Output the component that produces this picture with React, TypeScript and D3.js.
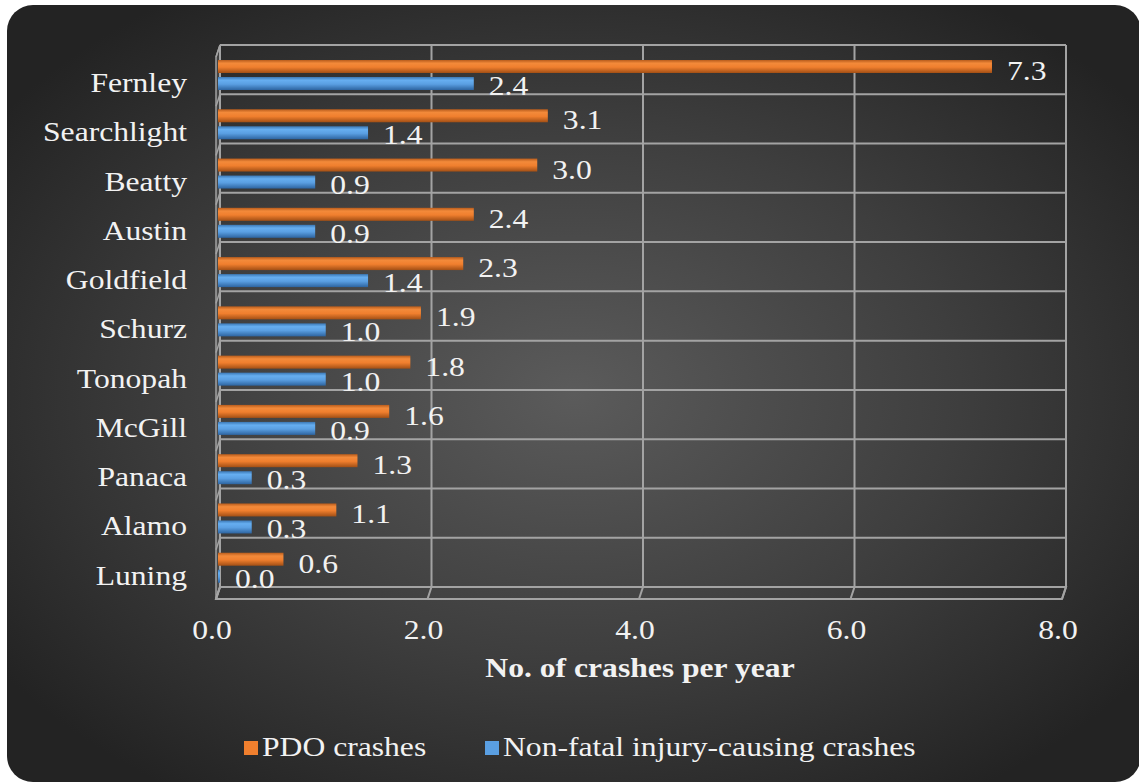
import React from "react";
import * as d3 from "d3";

// Crash rates per year by town
const categories = [
  "Fernley",
  "Searchlight",
  "Beatty",
  "Austin",
  "Goldfield",
  "Schurz",
  "Tonopah",
  "McGill",
  "Panaca",
  "Alamo",
  "Luning",
];
const pdoCrashes = [7.3, 3.1, 3.0, 2.4, 2.3, 1.9, 1.8, 1.6, 1.3, 1.1, 0.6];
const injuryCrashes = [2.4, 1.4, 0.9, 0.9, 1.4, 1.0, 1.0, 0.9, 0.3, 0.3, 0.0];
const xTicks = [0, 2, 4, 6, 8];
const seriesNames = ["PDO crashes", "Non-fatal injury-causing crashes"];

const W = 1139;
const H = 784;
const FONT = "'Liberation Serif', 'Times New Roman', serif";
const FS = 27.5;
const SX = 1.15;
// 3D depth offset (back wall -> front edge)
const DX = -4;
const DY = 12;

const TEXT = "#f2f2f2";
const GRID = "#a3a3a3";

function Label(props: {
  x: number;
  y: number;
  text: string;
  anchor?: "start" | "middle" | "end";
  bold?: boolean;
}) {
  return (
    <text
      transform={`translate(${props.x},${props.y}) scale(${SX},1)`}
      textAnchor={props.anchor ?? "start"}
      fontFamily={FONT}
      fontSize={FS}
      fontWeight={props.bold ? "bold" : "normal"}
      fill={TEXT}
    >
      {props.text}
    </text>
  );
}

export default function App() {
  const x = d3.scaleLinear().domain([0, 8]).range([220, 1066]);
  const y = d3.scaleBand<string>().domain(categories).range([45, 587]).padding(0);
  const bw = y.bandwidth();
  const fmt = d3.format(".1f");

  const top = 45;
  const bottom = 587;
  const left = x(0);
  const right = x(8);

  const rowLines = d3.range(categories.length + 1).map((i) => top + i * bw);

  return (
    <svg
      width={W}
      height={H}
      style={{ position: "absolute", left: 0, top: 0, background: "#ffffff" }}
    >
      <defs>
        <radialGradient id="bg" cx="0.5" cy="0.5" r="0.62">
          <stop offset="0" stopColor="#5b5b5b" />
          <stop offset="0.55" stopColor="#3e3e3e" />
          <stop offset="1" stopColor="#232323" />
        </radialGradient>
        <linearGradient id="gOrange" x1="0" y1="0" x2="0" y2="1">
          <stop offset="0" stopColor="#b85c1c" />
          <stop offset="0.25" stopColor="#f38a3a" />
          <stop offset="0.55" stopColor="#f07f2e" />
          <stop offset="1" stopColor="#a24f15" />
        </linearGradient>
        <linearGradient id="gBlue" x1="0" y1="0" x2="0" y2="1">
          <stop offset="0" stopColor="#3b78b5" />
          <stop offset="0.25" stopColor="#66aef0" />
          <stop offset="0.55" stopColor="#5a9fe2" />
          <stop offset="1" stopColor="#2d64a0" />
        </linearGradient>
      </defs>

      {/* chart area */}
      <rect x={7} y={5} width={1134} height={777} rx={26} ry={26} fill="url(#bg)" />

      {/* left wall */}
      <polygon
        points={`${left},${top} ${left + DX},${top + DY} ${left + DX},${bottom + DY} ${left},${bottom}`}
        fill="#5a5a5a"
        fillOpacity={0.5}
        stroke={GRID}
        strokeWidth={1.5}
      />
      {/* floor */}
      <polygon
        points={`${left},${bottom} ${right},${bottom} ${right + DX},${bottom + DY} ${left + DX},${bottom + DY}`}
        fill="none"
        stroke={GRID}
        strokeWidth={2}
      />

      {/* category gridlines on back wall and left wall */}
      {rowLines.map((ly, i) => (
        <g key={`row${i}`}>
          <line x1={left} x2={right} y1={ly} y2={ly} stroke={GRID} strokeWidth={2} />
          <line x1={left} x2={left + DX} y1={ly} y2={ly + DY} stroke={GRID} strokeWidth={1.5} />
        </g>
      ))}

      {/* value gridlines */}
      {xTicks.map((t) => (
        <g key={`v${t}`}>
          <line x1={x(t)} x2={x(t)} y1={top} y2={bottom} stroke={GRID} strokeWidth={2} />
          <line x1={x(t)} x2={x(t) + DX} y1={bottom} y2={bottom + DY} stroke={GRID} strokeWidth={2} />
        </g>
      ))}

      {/* bars */}
      {categories.map((c, i) => {
        const b = y(c)!;
        const x0 = x(0) - 2;
        return (
          <g key={c}>
            <rect
              x={x0}
              y={b + 15}
              width={Math.max(0, x(pdoCrashes[i]) - x0)}
              height={13}
              fill="url(#gOrange)"
            />
            <rect
              x={x0}
              y={b + 32}
              width={Math.max(0, x(injuryCrashes[i]) - x0)}
              height={13}
              fill="url(#gBlue)"
            />
            <Label x={x(pdoCrashes[i]) + 15} y={b + 35} text={fmt(pdoCrashes[i])} />
            <Label x={x(injuryCrashes[i]) + 15} y={b + 50} text={fmt(injuryCrashes[i])} />
            <Label x={187} y={b + 47} text={c} anchor="end" />
          </g>
        );
      })}

      {/* x tick labels */}
      {xTicks.map((t) => (
        <Label key={`t${t}`} x={x(t) + DX - 4} y={639} text={fmt(t)} anchor="middle" />
      ))}

      {/* axis title */}
      <Label x={640} y={677} text="No. of crashes per year" anchor="middle" bold />

      {/* legend */}
      <rect x={244} y={741} width={14} height={14} fill="#f07f2e" />
      <Label x={262} y={756} text={seriesNames[0]} />
      <rect x={485} y={741} width={14} height={14} fill="#5a9fe2" />
      <Label x={503} y={756} text={seriesNames[1]} />
    </svg>
  );
}
